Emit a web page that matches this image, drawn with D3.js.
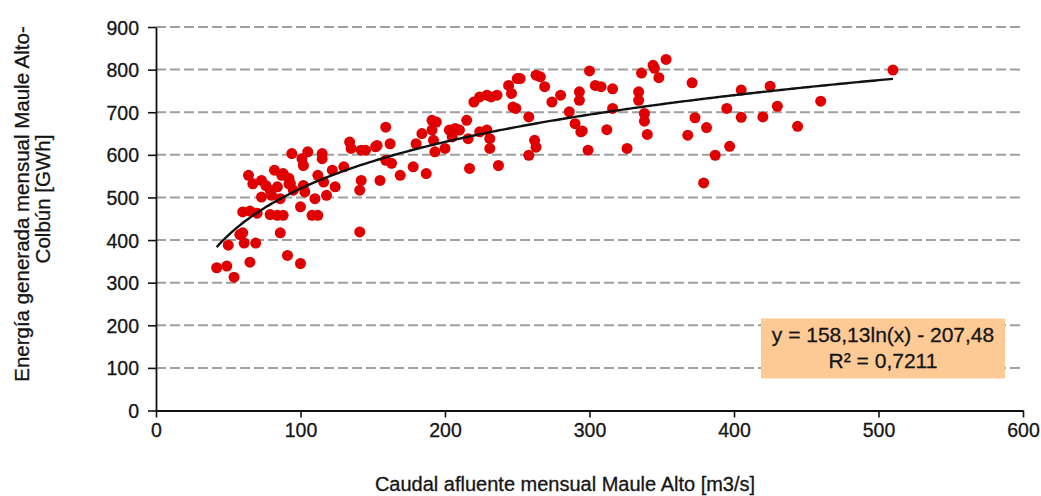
<!DOCTYPE html>
<html>
<head>
<meta charset="utf-8">
<script src="https://cdn.jsdelivr.net/npm/d3@7"></script>
<style>
  html, body { margin: 0; padding: 0; background: #ffffff; }
  svg text { font-family: "Liberation Sans", Arial, sans-serif; fill: #151515; }
</style>
</head>
<body>
<svg id="chart" width="1041" height="496"></svg>
<script>
// Monthly inflow (m3/s) vs. generated energy (GWh), one entry per month
const caudal = [
  42, 49, 54, 65, 50, 58, 60, 61, 69, 86, 91, 100, 60, 65, 70, 79, 84, 64, 67, 73,
  76, 79, 80, 82, 87, 92, 95, 94, 101, 102, 100, 86, 73, 84,
  105, 115, 115, 88, 92, 93, 102, 103, 112, 116, 118, 110, 108, 112, 88, 122,
  124, 130, 134, 135, 142, 142, 141, 141, 153, 155, 159, 162, 145, 152,
  159, 163, 169, 178, 187, 180, 184, 191, 194, 191, 192, 193, 200, 203, 207, 210,
  205, 215, 216, 217, 224, 229, 231, 231, 237, 220, 224, 229, 232, 236, 244, 250, 247, 246,
  263, 269, 274, 280, 252, 249, 258, 262, 263, 258, 266, 286, 290, 294, 300, 299,
  304, 308, 316, 293, 293, 295, 312, 316, 326, 336, 344, 345, 348, 353, 334, 334,
  338, 338, 340, 371, 373, 381, 368, 387, 379, 395, 397,
  405, 405, 420, 425, 430, 444, 460, 510
];
const energia = [
  335, 339, 313, 348, 388, 413, 417, 393, 393, 417, 364, 345, 466, 468, 463, 460, 458, 552, 532, 540,
  528, 517, 505, 564, 552, 532, 517, 603, 591, 575, 478, 497, 501, 525,
  607, 603, 591, 556, 545, 533, 528, 513, 552, 536, 505, 497, 458, 458, 458, 564,
  525, 572, 630, 615, 611, 540, 517, 419, 622, 540, 665, 626, 611, 619,
  587, 580, 552, 572, 556, 626, 650, 681, 677, 658, 634, 607, 615, 658, 662, 658,
  642, 681, 638, 568, 654, 658, 638, 615, 575, 724, 736, 740, 736, 740, 763, 779, 712, 744,
  787, 760, 724, 740, 779, 709, 689, 634, 618, 599, 783, 701, 673, 654, 797, 611,
  763, 760, 755, 748, 728, 656, 659, 709, 615, 792, 810, 803, 781, 824, 748, 728,
  697, 679, 648, 769, 687, 664, 646, 599, 534, 709, 620,
  752, 688, 689, 761, 714, 667, 726, 799
];
const xTicks = [0, 100, 200, 300, 400, 500, 600];
const yTicks = [0, 100, 200, 300, 400, 500, 600, 700, 800, 900];
// Logarithmic fit y = a*ln(x) + b
const fitA = 158.13;
const fitB = -207.48;
const fitLines = ["y = 158,13ln(x) - 207,48", "R² = 0,7211"];
const xTitle = "Caudal afluente mensual Maule Alto [m3/s]";
const yTitle = ["Energía generada mensual Maule Alto-", "Colbún [GWh]"];

const svg = d3.select("#chart");
const plot = { left: 156, right: 1023, top: 27, bottom: 410.5 };

const x = d3.scaleLinear().domain([0, 600]).range([plot.left, plot.right]);
const y = d3.scaleLinear().domain([0, 900]).range([plot.bottom, plot.top]);

// dashed horizontal gridlines
svg.append("g")
  .selectAll("line")
  .data(yTicks.filter(d => d > 0))
  .join("line")
  .attr("x1", plot.left).attr("x2", plot.right)
  .attr("y1", d => y(d)).attr("y2", d => y(d))
  .attr("stroke", "#9f9f9f")
  .attr("stroke-width", 2)
  .attr("stroke-dasharray", "10,4");

// axes
const xAxis = d3.axisBottom(x).tickValues(xTicks).tickSize(7).tickSizeOuter(0).tickPadding(6);
const yAxis = d3.axisLeft(y).tickValues(yTicks).tickSize(8).tickSizeOuter(0).tickPadding(9);

const gx = svg.append("g").attr("transform", `translate(0,${plot.bottom})`).call(xAxis);
const gy = svg.append("g").attr("transform", `translate(${plot.left},0)`).call(yAxis);

[gx, gy].forEach(g => {
  g.select(".domain").attr("stroke", "#111").attr("stroke-width", 1.8);
  g.selectAll(".tick line").attr("stroke", "#111").attr("stroke-width", 1.6);
  g.selectAll(".tick text")
    .attr("font-family", "Liberation Sans, Arial, sans-serif")
    .attr("font-size", 19.5)
    .attr("fill", "#151515")
    .attr("stroke", "#151515")
    .attr("stroke-width", 0.3);
});
gy.selectAll(".tick text").attr("dy", "0.36em");

// scatter points
const points = caudal.map((c, i) => ({ q: c, e: energia[i] }));
svg.append("g")
  .selectAll("circle")
  .data(points)
  .join("circle")
  .attr("cx", d => x(d.q))
  .attr("cy", d => y(d.e))
  .attr("r", 5.5)
  .attr("fill", "#e00000");

// trend curve over the observed inflow range
const qMin = d3.min(caudal), qMax = d3.max(caudal);
const curve = d3.range(qMin, qMax + 0.001, 2).map(q => ({ q, e: fitA * Math.log(q) + fitB }));
svg.append("path")
  .datum(curve)
  .attr("fill", "none")
  .attr("stroke", "#111")
  .attr("stroke-width", 2.4)
  .attr("d", d3.line().x(d => x(d.q)).y(d => y(d.e)));

// fit equation label
const box = svg.append("g");
box.append("rect")
  .attr("x", 761).attr("y", 318.5)
  .attr("width", 244).attr("height", 60)
  .attr("fill", "#fdca96");
box.selectAll("text")
  .data(fitLines)
  .join("text")
  .attr("x", 883)
  .attr("y", (d, i) => 342 + i * 26)
  .attr("text-anchor", "middle")
  .attr("font-size", 21)
  .attr("stroke", "#151515")
  .attr("stroke-width", 0.3)
  .text(d => d);

// axis titles
svg.append("text")
  .attr("x", 565).attr("y", 491)
  .attr("text-anchor", "middle")
  .attr("font-size", 20)
  .attr("stroke", "#151515")
  .attr("stroke-width", 0.3)
  .text(xTitle);

svg.append("g")
  .attr("transform", "rotate(-90)")
  .selectAll("text")
  .data(yTitle)
  .join("text")
  .attr("x", (d, i) => i === 0 ? -204 : -199)
  .attr("y", (d, i) => 29 + i * 21)
  .attr("text-anchor", "middle")
  .attr("font-size", 20.5)
  .attr("stroke", "#151515")
  .attr("stroke-width", 0.3)
  .text(d => d);
</script>
</body>
</html>
